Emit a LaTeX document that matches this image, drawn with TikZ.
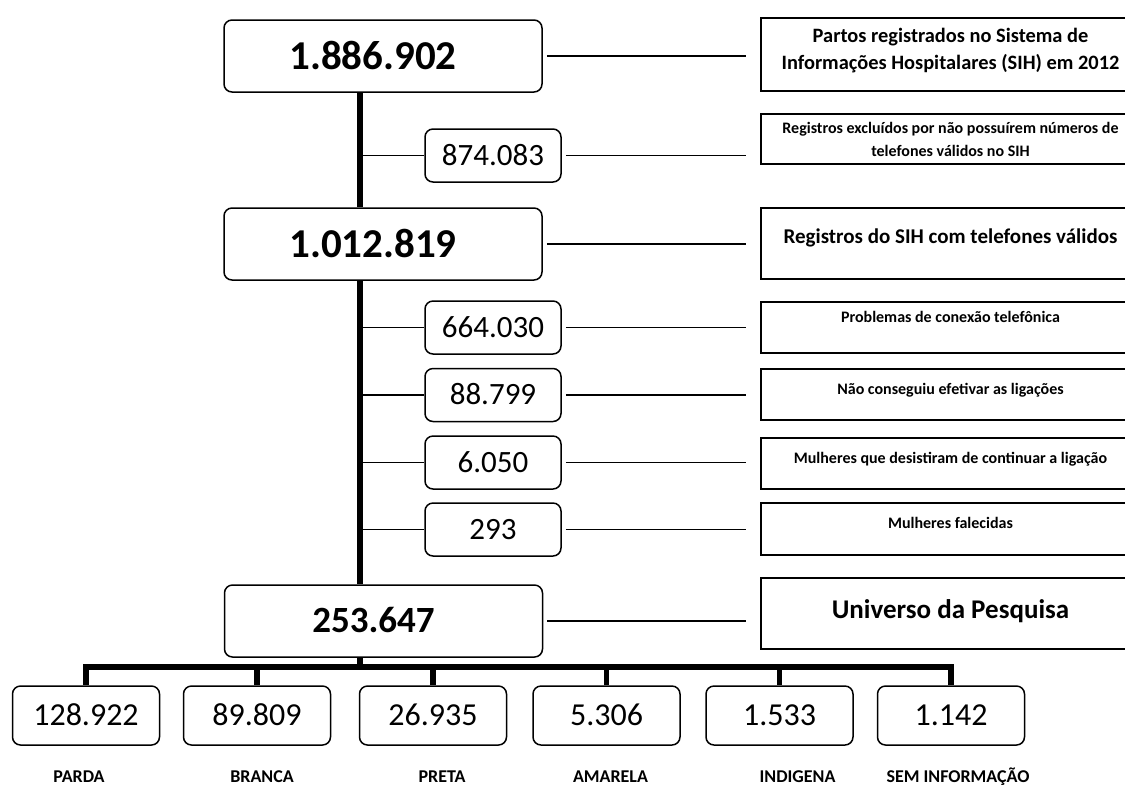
\documentclass[tikz,border=0pt]{standalone}
\usepackage{fontspec}
\setmainfont{Carlito}
\usetikzlibrary{positioning}

\begin{document}
\begin{tikzpicture}[x=0.5pt,y=-0.5pt,
  big/.style={draw,rounded corners=4pt,line width=0.75pt,minimum width=159pt,minimum height=36pt,text height=13pt,text depth=0pt,font=\fontsize{20.5}{24}\selectfont\bfseries,execute at end node={\hspace*{10pt}}},
  mid/.style={draw,rounded corners=4pt,line width=0.75pt,minimum width=68pt,minimum height=26.5pt,text height=9.8pt,text depth=0pt,font=\fontsize{15.5}{18}\selectfont},
  cat/.style={draw,rounded corners=4pt,line width=0.75pt,minimum width=73.5pt,minimum height=29.5pt,text height=10.1pt,text depth=0pt,font=\fontsize{16}{19}\selectfont},
  note/.style={draw,line width=0.75pt,minimum width=189.5pt,inner sep=2pt,align=center,font=\bfseries},
  lift/.style={text depth=#1},
  race/.style={inner sep=0pt,text height=6pt,text depth=2pt,font=\fontsize{9}{11}\selectfont\bfseries},
  thin/.style={line width=0.75pt},
  link/.style={line width=0.75pt,shorten <=2pt,shorten >=7pt},
  thick/.style={line width=2.8pt}]

\useasboundingbox (0,0) rectangle (1125,784);
\clip (0,0) rectangle (1125,784);

\coordinate (spine) at (360,0);
\coordinate (bus) at (0,667);

\node[big] (b1) at (383,56) {1.886.902};
\node[mid] (n1) at (493,155.5) {874.083};
\node[big] (b2) at (383,244) {1.012.819};
\node[mid] (n2) at (493,327.5) {664.030};
\node[mid] (n3) at (493,395) {88.799};
\node[mid] (n4) at (493,462.5) {6.050};
\node[mid] (n5) at (493,529.5) {293};
\node[big,text height=11.7pt,font=\fontsize{18.5}{22}\selectfont\bfseries] (tot) at (383.5,621) {253.647};

\node[note,minimum height=36.5pt,lift=6pt,font=\fontsize{10.2}{13.5}\selectfont\bfseries] (r1) at (950.5,54.5)
  {Partos registrados no Sistema de\\Informações Hospitalares (SIH) em 2012};
\node[note,minimum height=25pt,font=\fontsize{8}{11.5}\selectfont\bfseries] (r2) at (950.5,139)
  {Registros excluídos por não possuírem números de\\telefones válidos no SIH};
\node[note,minimum height=35.5pt,lift=7.5pt,font=\fontsize{10.5}{13}\selectfont\bfseries] (r3) at (950.5,243.5)
  {Registros do SIH com telefones válidos};
\node[note,minimum height=25.5pt,lift=11pt,font=\fontsize{8}{9.5}\selectfont\bfseries] (p1) at (950.5,327.5)
  {Problemas de conexão telefônica};
\node[note,minimum height=25.5pt,lift=6pt,font=\fontsize{8}{9.5}\selectfont\bfseries] (p2) at (950.5,394.5)
  {Não conseguiu efetivar as ligações};
\node[note,minimum height=25.5pt,lift=6pt,font=\fontsize{8}{9.5}\selectfont\bfseries] (p3) at (950.5,463.5)
  {Mulheres que desistiram de continuar a ligação};
\node[note,minimum height=26pt,lift=6.5pt,font=\fontsize{8}{9.5}\selectfont\bfseries] (p4) at (950.5,529)
  {Mulheres falecidas};
\node[note,minimum height=35.5pt,lift=4pt,font=\fontsize{13.5}{16}\selectfont\bfseries] (uni) at (950.5,613.5)
  {Universo da Pesquisa};

\node[cat] (c1) at (86,715.5) {128.922};
\node[cat] (c2) at (257,715.5) {89.809};
\node[cat] (c3) at (433,715.5) {26.935};
\node[cat] (c4) at (606.5,715.5) {5.306};
\node[cat] (c5) at (779.5,715.5) {1.533};
\node[cat] (c6) at (951,715.5) {1.142};

\node[race,below=12pt of c1,xshift=-3.5pt] (l1) {PARDA};
\node[race,below=12pt of c2,xshift=2.5pt] (l2) {BRANCA};
\node[race,below=12pt of c3,xshift=4.5pt] (l3) {PRETA};
\node[race,below=12pt of c4,xshift=2pt] (l4) {AMARELA};
\node[race,below=12pt of c5,xshift=9pt] (l5) {INDIGENA};
\node[race,below=12pt of c6,xshift=3.5pt] (l6) {SEM INFORMAÇÃO};

\draw[thick] (b1.south -| spine) -- (b2.north -| spine);
\draw[thick] (b2.south -| spine) -- (tot.north -| spine);
\draw[thin] (spine |- n1.west) -- (n1.west);
\draw[thin] (spine |- n2.west) -- (n2.west);
\draw[thin] (spine |- n3.west) -- (n3.west);
\draw[thin] (spine |- n4.west) -- (n4.west);
\draw[thin] (spine |- n5.west) -- (n5.west);

\draw[link] (b1.east) -- (b1.east -| r1.west);
\draw[link] (n1.east) -- (n1.east -| r2.west);
\draw[link] (b2.east) -- (b2.east -| r3.west);
\draw[link] (n2.east) -- (n2.east -| p1.west);
\draw[link] (n3.east) -- (n3.east -| p2.west);
\draw[link] (n4.east) -- (n4.east -| p3.west);
\draw[link] (n5.east) -- (n5.east -| p4.west);
\draw[link] (tot.east) -- (tot.east -| uni.west);

\draw[thick] (tot.south -| spine) -- (bus -| spine);
\draw[thick,line cap=rect] (bus -| c1.north) -- (bus -| c6.north);
\draw[thick] (bus -| c1.north) -- (c1.north);
\draw[thick] (bus -| c2.north) -- (c2.north);
\draw[thick] (bus -| c3.north) -- (c3.north);
\draw[thick] (bus -| c4.north) -- (c4.north);
\draw[thick] (bus -| c5.north) -- (c5.north);
\draw[thick] (bus -| c6.north) -- (c6.north);

\end{tikzpicture}
\end{document}
